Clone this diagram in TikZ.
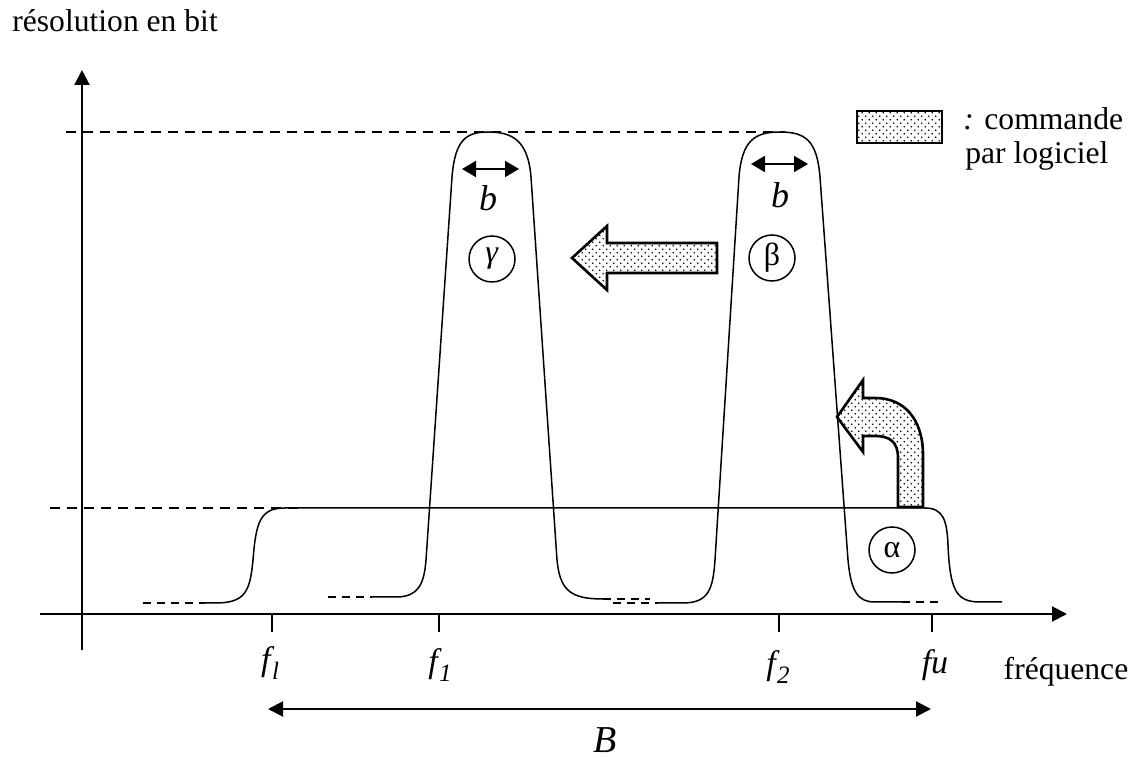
\documentclass[tikz,border=0pt]{standalone}
\usepackage{fontspec}
\setmainfont{Liberation Serif}
\usetikzlibrary{arrows.meta,patterns}
\pgfdeclarepatternformonly{sparsedots}{\pgfpoint{-1pt}{-1pt}}{\pgfpoint{4.5pt}{4.5pt}}{\pgfpoint{3.5pt}{3.5pt}}{%
  \pgfpathcircle{\pgfpoint{0.6pt}{0.6pt}}{0.45pt}%
  \pgfpathcircle{\pgfpoint{2.35pt}{2.35pt}}{0.45pt}%
  \pgfusepath{fill}}
\newcommand{\fsub}[1]{\textit{f}\kern-1.2pt\raisebox{-0.25em}{\fontsize{12.5}{13}\selectfont\itshape #1}}
\begin{document}
\begin{tikzpicture}[x=0.5pt,y=-0.5pt,
  axisln/.style={line width=1pt,-{Triangle[length=7.5pt,width=7.5pt]}},
  tick/.style={line width=0.8pt},
  curveln/.style={line width=0.75pt},
  dashln/.style={line width=1pt,dash pattern=on 5pt off 3.5pt},
  smalldash/.style={line width=0.75pt,dash pattern=on 4pt off 3pt},
  ctrl/.style={draw,line width=1.3pt,line join=miter,preaction={fill=white},pattern=sparsedots},
  dblarrow/.style={line width=1pt,{Triangle[length=7pt,width=8pt]}-{Triangle[length=7pt,width=8pt]}},
  bigarrow/.style={line width=1pt,{Triangle[length=7.5pt,width=7.5pt]}-{Triangle[length=7.5pt,width=7.5pt]}},
  greek/.style={circle,draw,line width=0.75pt,minimum size=23pt,inner sep=0pt,font=\fontsize{16}{18}\selectfont},
  lbl/.style={font=\fontsize{15.8}{19}\selectfont,inner sep=0pt},
  flbl/.style={font=\fontsize{17}{20}\selectfont,inner sep=0pt}]
\useasboundingbox (0,0) rectangle (1141,758);

% axes
\coordinate (yb) at (82,650);
\coordinate (yt) at (82,70);
\coordinate (xl) at (40,614);
\coordinate (xr) at (1067,614);
\draw[axisln] (yb) -- (yt);
\draw[axisln] (xl) -- (xr);

% reference dashed levels
\draw[dashln] (66,132) -- (785,132);
\draw[dashln] (50,508) -- (300,508);

% ticks
\coordinate (tl) at (272,614);
\coordinate (t1) at (439,614);
\coordinate (t2) at (779,614);
\coordinate (tu) at (932,614);
\foreach \c in {tl,t1,t2,tu} \draw[tick] (\c) -- ++(0,18);

% alpha band
\draw[smalldash] (143,603) -- (205,603);
\draw[curveln] (200,603) -- (215,603) .. controls (245,603) and (250,592) .. (253,560)
  .. controls (256,522) and (260,508) .. (285,508) -- (925,508)
  .. controls (943,508) and (947,520) .. (948,545)
  .. controls (950,590) and (956,602) .. (980,602) -- (1002,602);

% gamma peak
\draw[smalldash] (328,597) -- (372,597);
\draw[curveln] (370,597) -- (398,597) .. controls (418,596) and (424,585) .. (426,560)
  -- (452,177) .. controls (455,140) and (466,132) .. (488,132)
  .. controls (512,132) and (528,140) .. (531,177)
  -- (557,560) .. controls (560,590) and (570,599) .. (603,599);
\draw[smalldash] (603,599) -- (650,599);
\draw[smalldash] (613,603) -- (658,603);

% beta peak
\draw[curveln] (658,603) -- (685,603) .. controls (708,602) and (713,590) .. (715,560)
  -- (739,177) .. controls (742,140) and (755,132) .. (780,132)
  .. controls (805,132) and (817,140) .. (820,177)
  -- (848,560) .. controls (851,592) and (858,602) .. (875,602) -- (902,602);
\draw[smalldash] (902,602) -- (942,602);

% width arrows and b labels
\coordinate (g1) at (462,169);
\coordinate (g2) at (519,169);
\coordinate (h1) at (751,164);
\coordinate (h2) at (808,164);
\draw[dblarrow] (g1) -- (g2);
\draw[dblarrow] (h1) -- (h2);
\node[flbl,font=\fontsize{18}{20}\selectfont] (bg) at (488,198) {\textit{b}};
\node[flbl,font=\fontsize{18}{20}\selectfont] (bb) at (780,195) {\textit{b}};

% greek circles
\node[greek] (gam) at (492,259) {\textit{γ}};
\node[greek] (bet) at (772,258) {β};
\node[greek] (alp) at (892,550) {α};

% control arrows
\draw[ctrl] (717,243) -- (607,243) -- (607,226) -- (572,258) -- (607,290) -- (607,273) -- (717,273) -- cycle;
\draw[ctrl] (898,507) -- (898,458) .. controls (898,442) and (890,436) .. (875,436) -- (863,436)
  -- (863,452) -- (837,417) -- (863,380) -- (863,398) -- (875,398)
  .. controls (905,398) and (923,420) .. (923,455) -- (923,507) -- cycle;

% legend
\draw[ctrl] (857,111) rectangle (942,143);
\node[lbl,anchor=base west] (leg1) at (963,130) {\textit{:} commande};
\node[lbl,anchor=base west] (leg2) at (965,164) {par logiciel};

% axis labels
\node[lbl,anchor=base west] (ylab) at (12,32) {résolution en bit};
\node[lbl,anchor=base] (xlab) at (1066,680) {fréquence};

% frequency labels
\node[flbl] (fl) at (270,663) {\fsub{l}};
\node[flbl] (f1) at (440,665) {\fsub{1}};
\node[flbl] (f2) at (778,667) {\fsub{2}};
\node[flbl] (fu) at (935,665) {\textit{fu}};

% bandwidth
\coordinate (Bl) at (268,709);
\coordinate (Br) at (931,709);
\draw[bigarrow] (Bl) -- (Br);
\node[flbl,font=\fontsize{19}{21}\selectfont] (B) at (605,740) {\textit{B}};
\end{tikzpicture}
\end{document}
